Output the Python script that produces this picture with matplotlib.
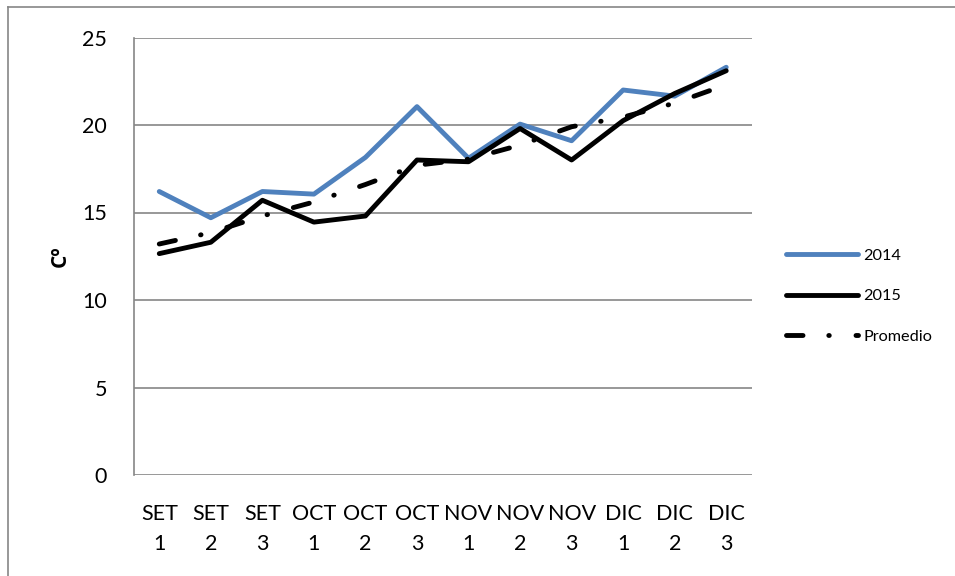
import matplotlib.pyplot as plt
from matplotlib.lines import Line2D

# datos
categorias = ["SET\n1", "SET\n2", "SET\n3", "OCT\n1", "OCT\n2", "OCT\n3",
              "NOV\n1", "NOV\n2", "NOV\n3", "DIC\n1", "DIC\n2", "DIC\n3"]
t2014 = [16.2, 14.7, 16.2, 16.05, 18.15, 21.05, 18.1, 20.05, 19.1, 22.0, 21.65, 23.3]
t2015 = [12.65, 13.3, 15.7, 14.45, 14.8, 18.0, 17.9, 19.8, 18.0, 20.25, 21.8, 23.1]
promedio = [13.2, 13.85, 14.8, 15.6, 16.6, 17.7, 18.05, 18.85, 19.9, 20.45, 21.25, 22.3]

plt.rcParams['font.family'] = ['Lato', 'DejaVu Sans']

fig = plt.figure(figsize=(9.55, 5.76), dpi=100)
ax = fig.add_axes([133.5 / 955, (576 - 475) / 576, 618.5 / 955, 437.5 / 576])

x = range(len(categorias))
ax.plot(x, t2014, color="#4F81BD", lw=3.5, label="2014", solid_capstyle="round")
ax.plot(x, t2015, color="black", lw=3.5, label="2015", solid_capstyle="round")
ax.plot(x, promedio, color="black", lw=3.5, label="Promedio",
        linestyle=(0, (3.4, 5.3, 0.1, 5.5)), dash_capstyle="round")

ax.set_xlim(-0.5, len(categorias) - 0.5)
ax.set_ylim(0, 25)
ax.set_yticks([0, 5, 10, 15, 20, 25])
ax.set_xticks(list(x))
ax.set_xticklabels(categorias, linespacing=1.62)
ax.tick_params(axis="both", length=0, labelsize=15.5)
ax.tick_params(axis="y", pad=19)
ax.tick_params(axis="x", pad=21)

ax.grid(axis="y", color="#868686", lw=1.2)
ax.set_axisbelow(True)
for s in ["top", "right", "bottom"]:
    ax.spines[s].set_visible(False)
ax.spines["left"].set_color("#868686")
ax.spines["left"].set_linewidth(1.2)

ax.set_ylabel("Cº", fontsize=15, fontweight="bold", labelpad=8,
              family=["Open Sans", "DejaVu Sans"])

ax.legend(loc="upper left", bbox_to_anchor=(778 / 955, 1 - 240 / 576),
          bbox_transform=fig.transFigure, frameon=False, fontsize=11.7,
          handlelength=4.4, handletextpad=0.37, labelspacing=1.62, borderpad=0)

# borde del area del grafico
fig.add_artist(Line2D([8 / 955, 8 / 955], [0, 1 - 7 / 576], color="#868686", lw=1.2))
fig.add_artist(Line2D([8 / 955, 1], [1 - 7 / 576, 1 - 7 / 576], color="#868686", lw=1.2))

plt.savefig("out.png", dpi=100)
